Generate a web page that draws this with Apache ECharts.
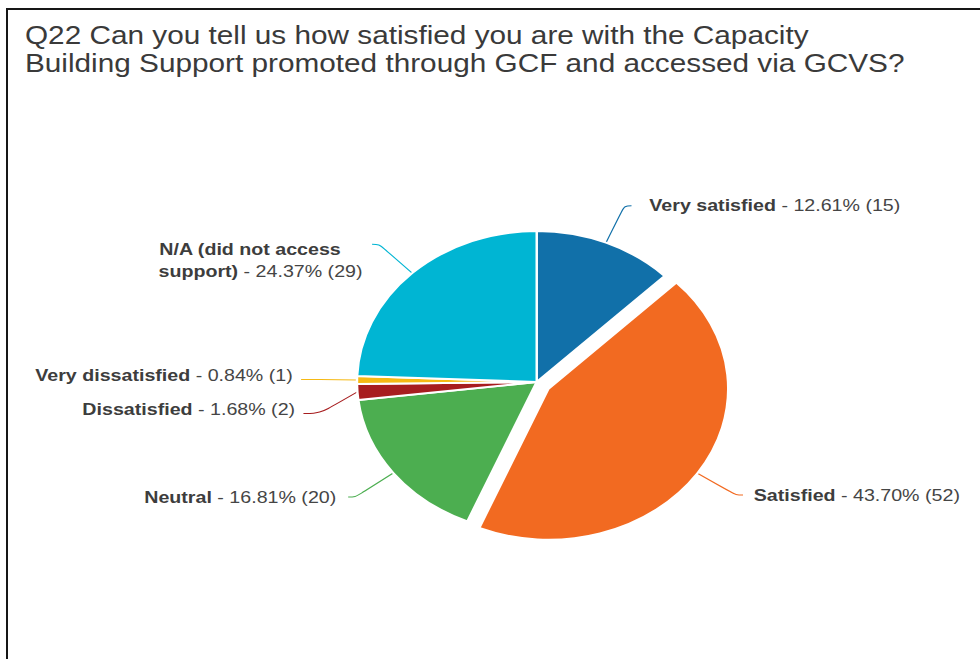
<!DOCTYPE html>
<html>
<head>
<meta charset="utf-8">
<title>Q22 Capacity Building Support satisfaction</title>
<script src="https://cdn.jsdelivr.net/npm/echarts/dist/echarts.min.js"></script>
<style>
  html, body { margin: 0; padding: 0; background: #ffffff; width: 980px; height: 659px; overflow: hidden; }
  #frame {
    position: absolute; left: 6px; top: 8px; width: 990px; height: 670px;
    border-left: 2px solid #161616; border-top: 2px solid #161616;
  }
  /* the survey export is shown stretched horizontally, so the whole chart is widened */
  #chart {
    position: absolute; left: 0; top: 0; width: 824px; height: 659px;
    transform: scaleX(1.19); transform-origin: 0 0;
  }
</style>
</head>
<body>
<div id="frame"></div>
<div id="chart"></div>
<script>
// Answer options, clockwise from 12 o'clock
const categories = [
  'Very satisfied',
  'Satisfied',
  'Neutral',
  'Dissatisfied',
  'Very dissatisfied',
  'N/A (did not access support)'
];
// Label text for each option (N/A wraps onto two lines)
const labelNames = [
  'Very satisfied',
  'Satisfied',
  'Neutral',
  'Dissatisfied',
  'Very dissatisfied',
  'N/A (did not access\nsupport)'
];
// Number of respondents per option
const counts = [15, 52, 20, 2, 1, 29];
const sliceColors = ['#1170a9', '#f26a21', '#4cae50', '#a71d1f', '#f5b914', '#00b5d3'];
const titleText = 'Q22 Can you tell us how satisfied you are with the Capacity\nBuilding Support promoted through GCF and accessed via GCVS?';

const FONT = '"Liberation Sans", Arial, Helvetica, sans-serif';
const LABEL_SIZE = 16.5;
const total = counts.reduce((a, b) => a + b, 0);

// width helper so multi-line labels stay left-aligned inside their block
const measureCtx = document.createElement('canvas').getContext('2d');
function textWidth(str, bold) {
  measureCtx.font = (bold ? 'bold ' : '') + LABEL_SIZE + 'px ' + FONT;
  return measureCtx.measureText(str).width;
}

function tailFor(i) {
  const pct = (counts[i] / total * 100).toFixed(2);
  return ' - ' + pct + '% (' + counts[i] + ')';
}

function labelFor(i) {
  const tail = tailFor(i);
  const lines = labelNames[i].split('\n');
  if (lines.length === 1) {
    return '{b|' + lines[0] + '}' + tail;
  }
  const out = lines.slice(0, -1).map(l => '{b|' + l + '}{pad' + i + '|}');
  out.push('{b|' + lines[lines.length - 1] + '}' + tail);
  return out.join('\n');
}

const rich = {
  b: { fontWeight: 'bold', fontFamily: FONT, fontSize: LABEL_SIZE, color: '#3d3d3d', lineHeight: 22 }
};
labelNames.forEach((n, i) => {
  const lines = n.split('\n');
  if (lines.length > 1) {
    const blockW = textWidth(lines[lines.length - 1], true) + textWidth(tailFor(i), false);
    rich['pad' + i] = { width: Math.max(0, blockW - textWidth(lines[0], true)), height: 1 };
  }
});

// per-slice label tweaks: leader lengths and spacing
const labelLineLength = [40, 39, 40, 40, 40, 40];
const labelLineLength2 = [6, 6, 6, 14, 14, 6];
const labelGap = [15, 9, 10, 7, 7, 8];

const seriesData = categories.map((c, i) => {
  const item = {
    name: c,
    value: counts[i],
    itemStyle: { color: sliceColors[i] },
    label: { formatter: labelFor(i), distanceToLabelLine: labelGap[i] },
    labelLine: { length: labelLineLength[i], length2: labelLineLength2[i] }
  };
  if (i === 1) item.selected = true;
  if (labelNames[i].indexOf('\n') >= 0) item.label.padding = [32, 0, 0, 0];
  if (counts[i] <= 2) item.label.padding = [1, 0, 9, 0];
  return item;
});

const chart = echarts.init(document.getElementById('chart'), null, { renderer: 'svg' });
chart.setOption({
  backgroundColor: 'transparent',
  animation: false,
  title: {
    text: titleText,
    left: 16,
    top: 16,
    textStyle: {
      fontFamily: FONT,
      fontSize: 25,
      fontWeight: 'normal',
      color: '#3a3a3a',
      lineHeight: 28
    }
  },
  series: [{
    type: 'pie',
    center: [451, 382],
    radius: 151,
    startAngle: 90,
    clockwise: true,
    selectedMode: 'single',
    selectedOffset: 12,
    avoidLabelOverlap: true,
    itemStyle: { borderColor: '#ffffff', borderWidth: 2 },
    label: {
      show: true,
      position: 'outside',
      fontFamily: FONT,
      fontSize: LABEL_SIZE,
      color: '#454545',
      lineHeight: 22,
      distanceToLabelLine: 10,
      rich: rich
    },
    labelLine: {
      show: true,
      length: 40,
      length2: 6,
      smooth: 0.35,
      lineStyle: { width: 1 }
    },
    emphasis: { disabled: true },
    data: seriesData
  }]
});
</script>
</body>
</html>
